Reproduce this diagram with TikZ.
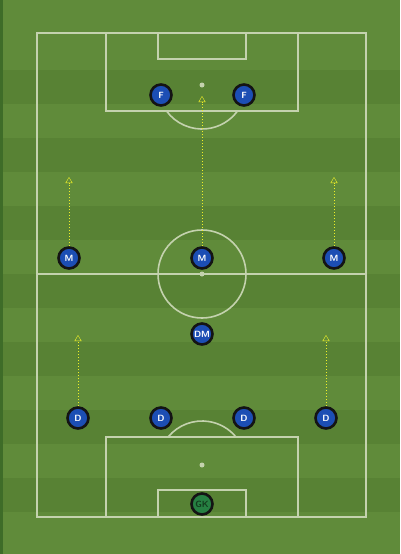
\documentclass[tikz,border=0pt]{standalone}
\usepackage{tikz}
\usetikzlibrary{arrows.meta, positioning}

\definecolor{grass}{RGB}{96,139,58}
\definecolor{grass-dark}{RGB}{88,130,52}
\definecolor{grass-edge}{RGB}{62,108,40}
\definecolor{chalk}{RGB}{196,210,174}
\definecolor{shirt}{RGB}{28,78,180}
\definecolor{shirt-gk}{RGB}{38,128,66}
\definecolor{shirt-gk-text}{RGB}{18,60,30}
\definecolor{run}{RGB}{240,240,40}

\begin{document}
\begin{tikzpicture}[x=1pt, y=-1pt,
band/.style={fill=grass-dark, draw=none},
pitch/.style={draw=chalk, line width=1.6pt},
spot/.style={circle, fill=chalk, inner sep=0pt, minimum size=5pt},
player/.style={circle, draw=black!92, line width=2.6pt, fill=shirt,
inner sep=0pt, minimum size=21pt, text=white, font=\sffamily\bfseries\small},
player-gk/.style={player, fill=shirt-gk, text=shirt-gk-text},
line/.style={draw=run, thin, dash pattern=on 1.5pt off 1.5pt, -{Triangle[open, length=6pt, width=7pt]}}
]
\useasboundingbox (0,0) rectangle (400,554);

% grass
\fill [grass] (0,0) rectangle (400,554);
\fill [grass-edge] (0,0) rectangle (3,554);
\foreach \y in {70,138,206,274,342,410,478}
  \path [band] (3,\y) rectangle (400,\y+34);

% markings
\draw [pitch] (37,33) rectangle (366,517);
\draw [pitch] (37,274) -- (366,274);
\draw [pitch] (202,274) circle (44);
\draw [pitch] (106,33) rectangle (298,111);
\draw [pitch] (158,33) rectangle (246,59);
\draw [pitch] (106,437) rectangle (298,517);
\draw [pitch] (158,490) rectangle (246,517);
\draw [pitch] (166.5,111) arc (143.8:36.2:44);
\draw [pitch] (168.1,437) arc (219.5:320.5:44);
\node [spot] (kick-off) at (202,274) {};
\node [spot] (spot-top) at (202,85) {};
\node [spot] (spot-bottom) at (202,465) {};

% players
\node [player] (f-l) at (161,95) {F};
\node [player] (f-r) at (244,95) {F};
\node [player] (m-l) at (69,258) {M};
\node [player] (m-c) at (202,258) {M};
\node [player] (m-r) at (334,258) {M};
\node [player] (dm) at (202,334) {DM};
\node [player] (d-1) at (78,418) {D};
\node [player] (d-2) at (161,418) {D};
\node [player] (d-3) at (244,418) {D};
\node [player] (d-4) at (326,418) {D};
\node [player-gk] (gk) at (202,504) {GK};

% runs
\coordinate (m-c-run) at (202,96);
\coordinate (m-l-run) at (69,177);
\coordinate (m-r-run) at (334,177);
\coordinate (d-1-run) at (78,335);
\coordinate (d-4-run) at (326,335);

\path [line] (m-c) -- (m-c-run);
\path [line] (m-l) -- (m-l-run);
\path [line] (m-r) -- (m-r-run);
\path [line] (d-1) -- (d-1-run);
\path [line] (d-4) -- (d-4-run);

\end{tikzpicture}
\end{document}
